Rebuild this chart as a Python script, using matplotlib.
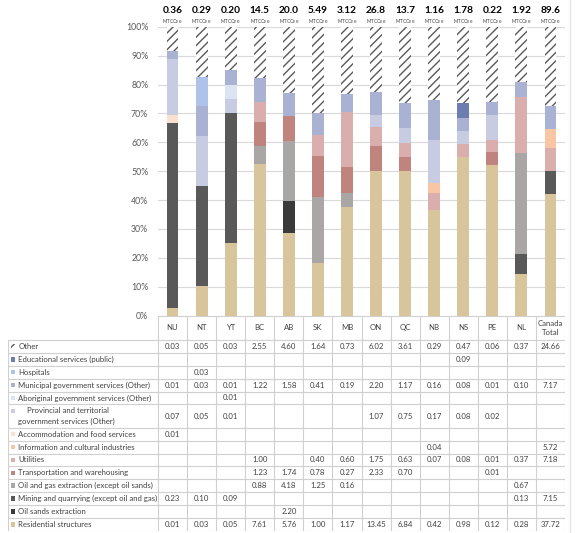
import matplotlib
matplotlib.use("Agg")
import matplotlib.pyplot as plt
import numpy as np
from matplotlib.lines import Line2D
from matplotlib.patches import Rectangle
from matplotlib.ticker import PercentFormatter

plt.rcParams["font.family"] = ["Lato", "DejaVu Sans"]
plt.rcParams["hatch.linewidth"] = 1.0

regions = ["NU", "NT", "YT", "BC", "AB", "SK", "MB", "ON", "QC", "NB", "NS", "PE", "NL", "Canada\nTotal"]
totals = ["0.36", "0.29", "0.20", "14.5", "20.0", "5.49", "3.12", "26.8", "13.7", "1.16", "1.78", "0.22", "1.92", "89.6"]

# MtCO2e by region, empty cells as None
other = [0.03, 0.05, 0.03, 2.55, 4.60, 1.64, 0.73, 6.02, 3.61, 0.29, 0.47, 0.06, 0.37, 24.66]
educational = [None, None, None, None, None, None, None, None, None, None, 0.09, None, None, None]
hospitals = [None, 0.03, None, None, None, None, None, None, None, None, None, None, None, None]
municipal = [0.01, 0.03, 0.01, 1.22, 1.58, 0.41, 0.19, 2.20, 1.17, 0.16, 0.08, 0.01, 0.10, 7.17]
aboriginal = [None, None, 0.01, None, None, None, None, None, None, None, None, None, None, None]
provincial = [0.07, 0.05, 0.01, None, None, None, None, 1.07, 0.75, 0.17, 0.08, 0.02, None, None]
accommodation = [0.01, None, None, None, None, None, None, None, None, None, None, None, None, None]
information = [None, None, None, None, None, None, None, None, None, 0.04, None, None, None, 5.72]
utilities = [None, None, None, 1.00, None, 0.40, 0.60, 1.75, 0.63, 0.07, 0.08, 0.01, 0.37, 7.18]
transportation = [None, None, None, 1.23, 1.74, 0.78, 0.27, 2.33, 0.70, None, None, 0.01, None, None]
oil_gas = [None, None, None, 0.88, 4.18, 1.25, 0.16, None, None, None, None, None, 0.67, None]
mining = [0.23, 0.10, 0.09, None, None, None, None, None, None, None, None, None, 0.13, 7.15]
oil_sands = [None, None, None, None, 2.20, None, None, None, None, None, None, None, None, None]
residential = [0.01, 0.03, 0.05, 7.61, 5.76, 1.00, 1.17, 13.45, 6.84, 0.42, 0.98, 0.12, 0.28, 37.72]

# table order (top to bottom); bars stack in reverse
series = [
    ("Other", other, "white"),
    ("Educational services (public)", educational, "#6E7DB1"),
    ("Hospitals", hospitals, "#AFC3EA"),
    ("Municipal government services (Other)", municipal, "#AAB2D4"),
    ("Aboriginal government services (Other)", aboriginal, "#DCE4F3"),
    ("Provincial and territorial government services (Other)", provincial, "#C7CCE2"),
    ("Accommodation and food services", accommodation, "#FCE0CF"),
    ("Information and cultural industries", information, "#F9C6A5"),
    ("Utilities", utilities, "#D9AEAC"),
    ("Transportation and warehousing", transportation, "#C0847F"),
    ("Oil and gas extraction (except oil sands)", oil_gas, "#AAA6A5"),
    ("Mining and quarrying (except oil and gas)", mining, "#595959"),
    ("Oil sands extraction", oil_sands, "#3A3A3A"),
    ("Residential structures", residential, "#D8C59B"),
]

W, H = 575, 533
fig = plt.figure(figsize=(W / 100, H / 100), dpi=100)

plot_l, plot_r = 158, 565
col_w = (plot_r - plot_l) / len(regions)
y_top, y_bot = 26.7, 315.7
ax = fig.add_axes([plot_l / W, 1 - y_bot / H, (plot_r - plot_l) / W, (y_bot - y_top) / H])

vals = np.array([[np.nan if v is None else v for v in s[1]] for s in series])
col_sum = np.nansum(vals, axis=0)
x = np.arange(len(regions))
bottom = np.zeros(len(regions))
for (name, v, color), row in zip(series[::-1], vals[::-1]):
    h = np.nan_to_num(row) / col_sum
    if name == "Other":
        ax.bar(x, h, 0.41, bottom=bottom, color="white", edgecolor="#595959",
               hatch="////", linewidth=0, zorder=3)
    else:
        ax.bar(x, h, 0.41, bottom=bottom, color=color, linewidth=0, zorder=3)
    bottom += h

ax.set_xlim(-0.5, len(regions) - 0.5)
ax.set_ylim(0, 1)
ax.set_yticks(np.arange(0, 1.01, 0.1))
ax.yaxis.set_major_formatter(PercentFormatter(1.0, decimals=0))
ax.tick_params(axis="y", length=0, pad=7, labelsize=6.3, labelcolor="#595959")
ax.set_xticks([])
ax.grid(axis="y", color="#D9D9D9", linewidth=0.8, zorder=0)
for s in ax.spines.values():
    s.set_visible(False)

for i, t in enumerate(totals):
    ax.text(i, 1.056, t, ha="center", va="center", fontsize=7.3, fontweight="bold",
            color="black", transform=ax.get_xaxis_transform())
    ax.text(i, 1.019, r"MTCO$_{2}$e", ha="center", va="center", fontsize=3.3,
            color="#404040", transform=ax.get_xaxis_transform())

# data table below the bars
tab_l, tab_top, tab_bot = 8, 316, 531
hdr_h = 1.85
row_h = [1.8 if s[0].startswith("Provincial") else 1.0 for s in series]
n_units = hdr_h + sum(row_h)
tax = fig.add_axes([tab_l / W, 1 - tab_bot / H, (plot_r - tab_l) / W, (tab_bot - tab_top) / H])
left_x = -0.5 - (plot_l - tab_l) / col_w
tax.set_xlim(left_x, len(regions) - 0.5)
tax.set_ylim(n_units, 0)
tax.axis("off")

line_kw = dict(color="#D0D0D0", linewidth=0.8)
txt_c = "#404040"
fs = 5.6

# header
tax.plot([-0.5, len(regions) - 0.5], [0, 0], **line_kw)
for i in range(len(regions) + 1):
    tax.plot([i - 0.5, i - 0.5], [0, hdr_h], **line_kw)
for i, r in enumerate(regions):
    tax.text(i, hdr_h / 2, r, ha="center", va="center", fontsize=fs, color=txt_c,
             linespacing=1.3)

y = hdr_h
tax.plot([left_x, len(regions) - 0.5], [y, y], **line_kw)
for (name, v, color), rh in zip(series, row_h):
    y0, y1 = y, y + rh
    tax.plot([left_x, len(regions) - 0.5], [y1, y1], **line_kw)
    for xv in [left_x] + [i - 0.5 for i in range(len(regions) + 1)]:
        tax.plot([xv, xv], [y0, y1], **line_kw)
    key_y = y0 + 0.5
    if name == "Other":
        tax.add_patch(Rectangle((left_x + 0.12, key_y - 0.18), 0.13, 0.36, facecolor="white",
                                edgecolor="#595959", hatch="////", linewidth=0))
    else:
        tax.add_patch(Rectangle((left_x + 0.12, key_y - 0.18), 0.13, 0.36, facecolor=color,
                                linewidth=0))
    if name.startswith("Provincial"):
        tax.text(left_x + 0.65, key_y, "Provincial and territorial", ha="left", va="center",
                 fontsize=fs, color=txt_c)
        tax.text(left_x + 0.35, key_y + 0.8, "government services (Other)", ha="left",
                 va="center", fontsize=fs, color=txt_c)
        val_y = (y0 + y1) / 2
    else:
        tax.text(left_x + 0.35, key_y, name, ha="left", va="center", fontsize=fs, color=txt_c)
        val_y = key_y
    for i, val in enumerate(v):
        if val is not None:
            tax.text(i, val_y, f"{val:.2f}", ha="center", va="center", fontsize=fs, color=txt_c)
    y = y1

# faint chart-area border on the right
fig.add_artist(Line2D([570 / W, 570 / W], [0, 1], color="#E0E0E0", linewidth=0.8))

fig.savefig("out.png", dpi=100)
